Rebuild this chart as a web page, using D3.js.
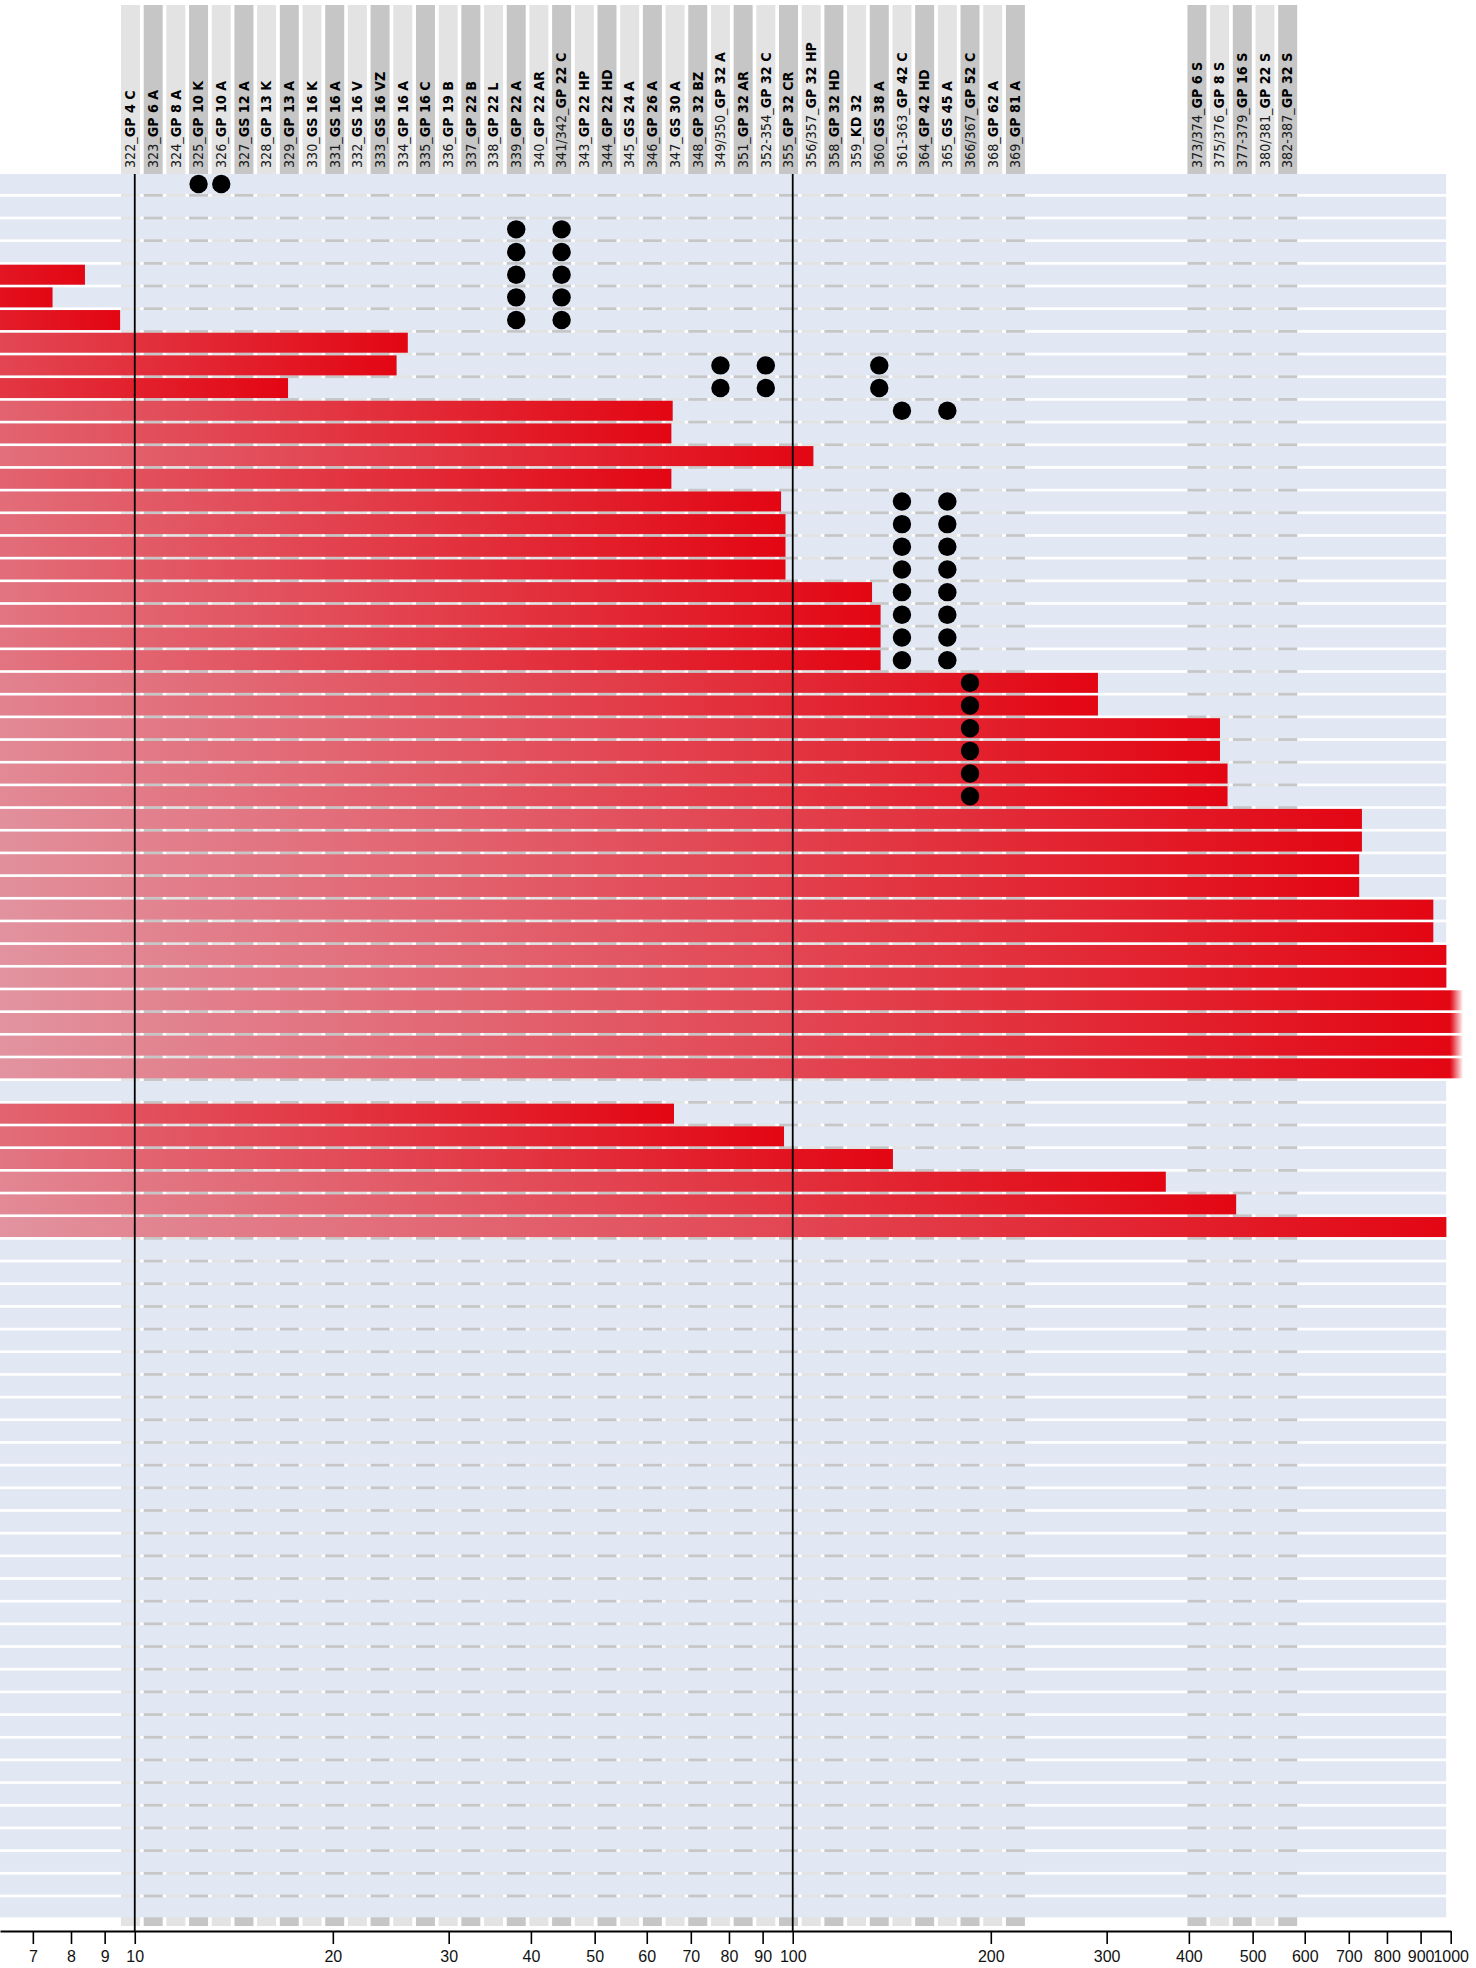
<!DOCTYPE html>
<html>
<head>
<meta charset="utf-8">
<script src="https://cdn.jsdelivr.net/npm/d3@7"></script>
<style>
  html, body { margin: 0; padding: 0; background: #fff; }
  svg { display: block; }
  .hdr { font-family: "Liberation Sans Narrow", "Arial Narrow", "DejaVu Sans Condensed", sans-serif; font-size: 14.2px; fill: #1a1a1a; }
  .hdr .code { font-weight: bold; fill: #000; }
  .axis text { font-family: "Liberation Sans", Arial, "Helvetica Neue", sans-serif; font-size: 16px; fill: #111; }
</style>
</head>
<body>
<svg id="chart" width="1476" height="1968"></svg>
<script>
// Column headers: item number and type code. null = unused slot.
const columnNumbers = [
  "322", "323", "324", "325", "326", "327", "328", "329", "330", "331",
  "332", "333", "334", "335", "336", "337", "338", "339", "340", "341/342",
  "343", "344", "345", "346", "347", "348", "349/350", "351", "352-354", "355",
  "356/357", "358", "359", "360", "361-363", "364", "365", "366/367", "368", "369",
  null, null, null, null, null, null, null,
  "373/374", "375/376", "377-379", "380/381", "382-387"
];
const columnCodes = [
  "GP 4 C", "GP 6 A", "GP 8 A", "GP 10 K", "GP 10 A", "GS 12 A", "GP 13 K", "GP 13 A", "GS 16 K", "GS 16 A",
  "GS 16 V", "GS 16 VZ", "GP 16 A", "GP 16 C", "GP 19 B", "GP 22 B", "GP 22 L", "GP 22 A", "GP 22 AR", "GP 22 C",
  "GP 22 HP", "GP 22 HD", "GS 24 A", "GP 26 A", "GS 30 A", "GP 32 BZ", "GP 32 A", "GP 32 AR", "GP 32 C", "GP 32 CR",
  "GP 32 HP", "GP 32 HD", "KD 32", "GS 38 A", "GP 42 C", "GP 42 HD", "GS 45 A", "GP 52 C", "GP 62 A", "GP 81 A",
  null, null, null, null, null, null, null,
  "GP 6 S", "GP 8 S", "GP 16 S", "GP 22 S", "GP 32 S"
];

// One value per row (log scale); null = no bar.
const barValues = [
  null, null, null, null, 8.4, 7.5, 9.5, 26, 25, 17.1,
  65.7, 65.4, 107.5, 65.4, 96, 97.5, 97.5, 97.5, 132, 136,
  136, 136, 291, 291, 446, 446, 458, 458, 733, 733,
  726, 726, 941, 941, 985, 985, 1200, 1200, 1200, 1200,
  null, 66, 97, 142, 369, 472, 985, null, null, null,
  null, null, null, null, null, null, null, null, null, null,
  null, null, null, null, null, null, null, null, null, null,
  null, null, null, null, null, null, null
];

// Markers: [row, column number]
const markers = [
  [0, "325"], [0, "326"],
  [2, "339"], [3, "339"], [4, "339"], [5, "339"], [6, "339"],
  [2, "341/342"], [3, "341/342"], [4, "341/342"], [5, "341/342"], [6, "341/342"],
  [8, "349/350"], [9, "349/350"], [8, "352-354"], [9, "352-354"], [8, "360"], [9, "360"],
  [10, "361-363"], [14, "361-363"], [15, "361-363"], [16, "361-363"], [17, "361-363"],
  [18, "361-363"], [19, "361-363"], [20, "361-363"], [21, "361-363"],
  [10, "365"], [14, "365"], [15, "365"], [16, "365"], [17, "365"],
  [18, "365"], [19, "365"], [20, "365"], [21, "365"],
  [22, "366/367"], [23, "366/367"], [24, "366/367"], [25, "366/367"], [26, "366/367"], [27, "366/367"]
];

const tickValues = [7, 8, 9, 10, 20, 30, 40, 50, 60, 70, 80, 90, 100, 200, 300, 400, 500, 600, 700, 800, 900, 1000];

// ---- layout ----
const RED = "#e30613";
const BAND = "#e1e8f4";
const COL_LIGHT = "#e3e3e3";
const COL_DARK = "#c6c6c6";

const svg = d3.select("#chart");
const defs = svg.append("defs");

const x = d3.scaleLog().domain([6.24, 1000]).range([0, 1450.7]);

const rowTop = 174, rowStep = 22.675, rowPad = 0.118;
const y = d3.scaleBand()
  .domain(d3.range(barValues.length))
  .range([rowTop, rowTop + rowStep * (barValues.length - rowPad)])
  .paddingInner(rowPad);

const colLeft = 121, colStep = 22.69, colPad = 0.163;
const col = d3.scaleBand()
  .domain(d3.range(columnNumbers.length))
  .range([colLeft, colLeft + colStep * (columnNumbers.length - colPad)])
  .paddingInner(colPad);

const stripTop = 5, stripBottom = 1926, axisY = 1931;
const bandRight = x(1000) - 4.5;

const columns = columnNumbers.map((n, i) => ({ i, n, code: columnCodes[i] })).filter(d => d.n !== null);
const colIndex = new Map(columns.map(d => [d.n, d.i]));

// column strips behind the rows
svg.append("g").selectAll("rect").data(columns).join("rect")
  .attr("x", d => col(d.i))
  .attr("y", stripTop)
  .attr("width", col.bandwidth())
  .attr("height", stripBottom - stripTop)
  .attr("fill", d => d.i % 2 ? COL_DARK : COL_LIGHT);

// column header labels
svg.append("g").selectAll("text").data(columns).join("text")
  .attr("class", "hdr")
  .attr("transform", d => `translate(${col(d.i) + col.bandwidth() / 2 + 4.8},168) rotate(-90)`)
  .call(t => {
    t.append("tspan").text(d => d.n + "_");
    t.append("tspan").attr("class", "code").text(d => d.code);
  });

// row bands
svg.append("g").selectAll("rect").data(barValues.map((v, i) => i)).join("rect")
  .attr("x", 0)
  .attr("y", i => y(i))
  .attr("width", bandRight)
  .attr("height", y.bandwidth())
  .attr("fill", BAND);

// bars: red fading toward the left, more so for longer bars
const maxX = x.range()[1];
const bars = barValues.map((v, i) => ({ v, i })).filter(d => d.v !== null);
bars.forEach(d => {
  const end = Math.min(x(d.v), maxX);
  const L = end / maxX;
  const a0 = 1 - 0.77 * (1 - Math.exp(-L / 0.6));
  const g = defs.append("linearGradient")
    .attr("id", "bar" + d.i)
    .attr("gradientUnits", "userSpaceOnUse")
    .attr("x1", 0).attr("x2", end).attr("y1", 0).attr("y2", 0);
  g.append("stop").attr("offset", 0).attr("stop-color", RED).attr("stop-opacity", a0);
  g.append("stop").attr("offset", 1).attr("stop-color", RED).attr("stop-opacity", 1);
  d.end = end;
});

const tail = defs.append("linearGradient").attr("id", "tail")
  .attr("x1", 0).attr("x2", 1).attr("y1", 0).attr("y2", 0);
tail.append("stop").attr("offset", 0).attr("stop-color", RED).attr("stop-opacity", 1);
tail.append("stop").attr("offset", 1).attr("stop-color", RED).attr("stop-opacity", 0);

const gBars = svg.append("g");
gBars.selectAll("rect.bar").data(bars).join("rect")
  .attr("class", "bar")
  .attr("x", 0)
  .attr("y", d => y(d.i))
  .attr("width", d => d.end)
  .attr("height", y.bandwidth())
  .attr("fill", d => `url(#bar${d.i})`);

// bars running past the axis end continue as a short fade
gBars.selectAll("rect.tail").data(bars.filter(d => d.v > x.domain()[1])).join("rect")
  .attr("class", "tail")
  .attr("x", maxX - 0.5)
  .attr("y", d => y(d.i))
  .attr("width", 13)
  .attr("height", y.bandwidth())
  .attr("fill", "url(#tail)");

// markers
svg.append("g").selectAll("circle").data(markers).join("circle")
  .attr("cx", d => col(colIndex.get(d[1])) + col.bandwidth() / 2)
  .attr("cy", d => y(d[0]) + y.bandwidth() / 2)
  .attr("r", 9.2)
  .attr("fill", "#000");

// reference lines at 10 and 100
svg.append("g").selectAll("line").data([10, 100]).join("line")
  .attr("x1", d => x(d)).attr("x2", d => x(d))
  .attr("y1", rowTop).attr("y2", axisY)
  .attr("stroke", "#000").attr("stroke-width", 1.8);

// x axis
const axis = svg.append("g")
  .attr("class", "axis")
  .attr("transform", `translate(0,${axisY})`)
  .call(d3.axisBottom(x).tickValues(tickValues).tickFormat(d3.format("d")).tickSize(13).tickSizeOuter(0).tickPadding(7));
axis.select(".domain").attr("stroke", "#000").attr("stroke-width", 1.8);
axis.selectAll(".tick line").attr("stroke", "#000").attr("stroke-width", 1.6);
</script>
</body>
</html>
